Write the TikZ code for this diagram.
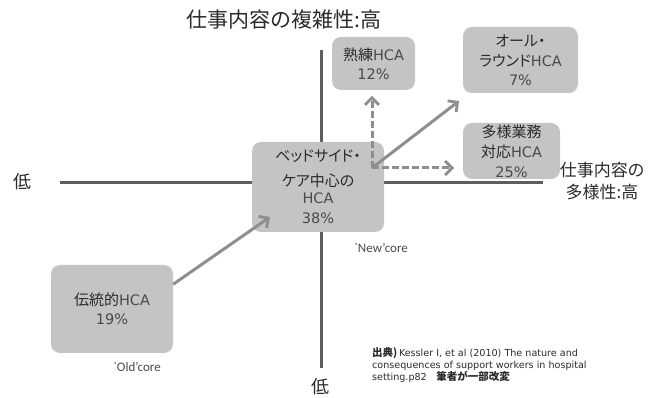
\documentclass[tikz,border=0pt]{standalone}
\usepackage{fontspec}
\setmainfont{Carlito}
\newfontfamily\jp[RawFeature=+palt]{Noto Sans CJK JP}
\newfontfamily\lat{DejaVu Sans}
\usetikzlibrary{arrows.meta}
\definecolor{boxfill}{HTML}{C4C4C4}
\definecolor{axisc}{HTML}{5E5E5E}
\definecolor{arrc}{HTML}{8E8E8E}
\definecolor{txtc}{HTML}{2A2A2A}
\definecolor{latc}{HTML}{4A4A4A}
\tikzset{
  hcabox/.style={fill=boxfill, rounded corners=9pt, inner sep=0pt, align=center,
    text=txtc, font=\jp\fontsize{15}{20}\selectfont},
  axisline/.style={draw=axisc, line width=3pt},
  flow/.style={draw=arrc, line width=3pt,
    -{Straight Barb[length=7pt,width=14pt,line width=2.8pt]}},
  flowdash/.style={flow, dash pattern=on 7pt off 3pt},
  axislabel/.style={text=txtc, inner sep=0pt, align=center},
  corelabel/.style={text=latc, inner sep=0pt, font=\fontsize{13}{15}\selectfont},
}
\newcommand{\lt}[1]{{\lat\fontsize{14.5}{18}\selectfont\color{latc}#1}}
\newcommand{\cj}[1]{{\jp\bfseries\fontsize{10.5}{12}\selectfont #1}}
\begin{document}
\begin{tikzpicture}[x=1pt,y=-1pt]
\useasboundingbox (0,0) rectangle (657,398);
% axes
\coordinate (vtop) at (321,50);
\coordinate (vbot) at (321,368);
\coordinate (hleft) at (60,183);
\coordinate (hright) at (543,183);
\draw[axisline] (vtop) -- (vbot);
\draw[axisline] (hleft) -- (hright);
% axis labels
\node[axislabel, font=\jp\fontsize{21}{24}\selectfont] (ttl) at (284,20) {仕事内容の複雑性:高};
\node[axislabel, font=\jp\fontsize{18}{20}\selectfont] (lowl) at (22,182) {低};
\node[axislabel, font=\jp\fontsize{18}{20}\selectfont] (lowb) at (320,387) {低};
\node[axislabel, font=\jp\fontsize{17}{22}\selectfont] (divh) at (602,181) {仕事内容の\\多様性:高};
% boxes
\node[hcabox, minimum width=132pt, minimum height=90pt] (bed) at (318,187)
  {ベッドサイド・\\[5pt]ケア中心の\\[-3pt]\lt{HCA}\\\lt{38\%}};
\node[hcabox, minimum width=83pt, minimum height=53pt] (skill) at (373.5,63.5)
  {熟練\lt{HCA}\\[-1pt]\lt{12\%}};
\node[hcabox, minimum width=115pt, minimum height=66pt] (allr) at (520.5,60)
  {オール・\\ラウンド\lt{HCA}\\[-1pt]\lt{7\%}};
\node[hcabox, minimum width=97pt, minimum height=56pt] (multi) at (511.5,151)
  {多様業務\\対応\lt{HCA}\\\lt{25\%}};
\node[hcabox, minimum width=122pt, minimum height=88pt] (trad) at (112,309)
  {伝統的\lt{HCA}\\[-1pt]\lt{19\%}};
% core labels
\node[corelabel] (newc) at (381,248) {\textasciigrave New'core};
\node[corelabel] (oldc) at (137,367) {\textasciigrave Old'core};
% connectors
\coordinate (tip1) at (270,217);
\coordinate (hub) at (372,168);
\coordinate (tipup) at (372,96);
\coordinate (tipright) at (454,168);
\coordinate (tipdiag) at (459,101);
\draw[flow] (trad.22) -- (tip1);
\draw[flowdash] (hub) -- (tipup);
\draw[flowdash] (hub) -- (tipright);
\draw[flow] (hub) -- (tipdiag);
% source
\node[anchor=north west, inner sep=0pt, align=left, text=txtc,
  font=\lat\fontsize{9.6}{12}\selectfont] (src) at (372,347)
  {\cj{出典)}\,Kessler I, et al (2010) The nature and\\
   consequences of support workers in hospital\\
   setting.p82\quad\cj{筆者が一部改変}};
\end{tikzpicture}
\end{document}
